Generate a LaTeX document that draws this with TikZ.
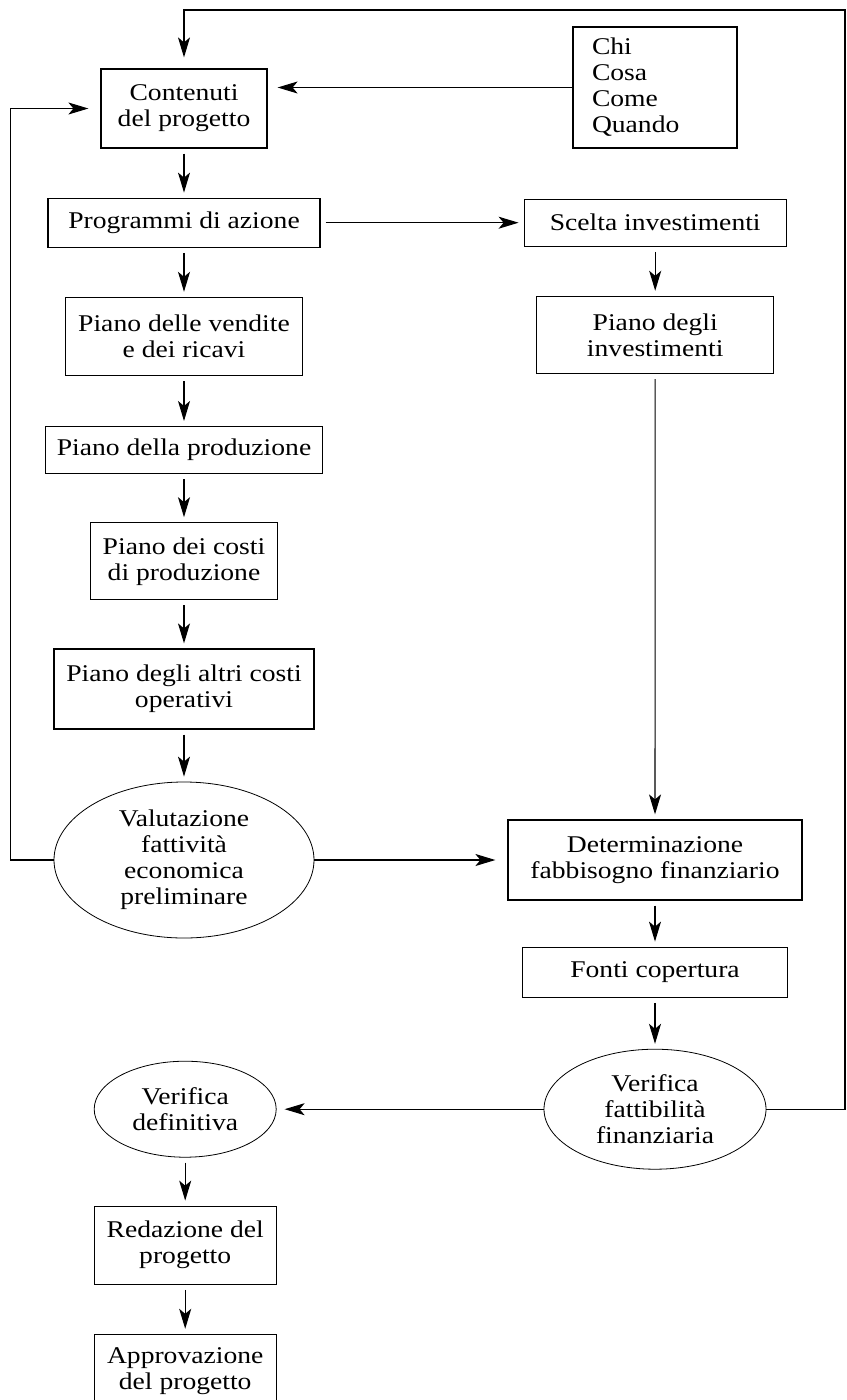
\documentclass[tikz,border=0pt]{standalone}
\usepackage{fontspec}
\setmainfont{Liberation Serif}[FakeStretch=1.15]
\usepackage{tikz}
\usetikzlibrary{shapes.geometric, arrows.meta, positioning}
\tikzset{
  box/.style={
    rectangle, draw, line width=1.2pt, align=center,
    inner sep=4pt, font=\fontsize{24pt}{26pt}\selectfont
  },
  oval/.style={
    ellipse, draw, line width=0.8pt, align=center,
    inner sep=0pt, font=\fontsize{24pt}{26pt}\selectfont
  },
  arr/.style={-{Stealth[length=20pt, width=12pt, inset=5pt]},
    line width=1.1pt, shorten >=5pt, shorten <=5pt},
  ritorno/.style={arr, shorten <=0pt}
}

\begin{document}
\begin{tikzpicture}[x=1pt, y=-1pt, node distance=49pt]
  \useasboundingbox (0,0) rectangle (846,1400);

  % colonna sinistra
  \node[box, minimum width=166pt, minimum height=79pt] (cont) at (184,108.5) {Contenuti\\del progetto};
  \node[box, minimum width=272pt, minimum height=49pt, below=of cont]    (prog)  {Programmi di azione};
  \node[box, minimum width=237pt, minimum height=78pt, below=of prog]    (vend)  {Piano delle vendite\\e dei ricavi};
  \node[box, minimum width=277pt, minimum height=47pt, below=50pt of vend]  (prod)  {Piano della produzione};
  \node[box, minimum width=187pt, minimum height=77pt, below=48pt of prod]  (costi) {Piano dei costi\\di produzione};
  \node[box, minimum width=260pt, minimum height=80pt, below=48pt of costi] (altri) {Piano degli altri costi\\operativi};
  \node[oval, minimum width=260pt, minimum height=156pt, below=52pt of altri] (val) {Valutazione\\fattività\\economica\\preliminare};

  % colonna destra
  \node[box, text width=126pt, align=left, inner xsep=19pt, minimum height=121pt] (chi) at (655,87.5) {Chi\\Cosa\\Come\\Quando};
  \node[box, minimum width=262pt, minimum height=47pt, right=203pt of prog] (scelta) {Scelta investimenti};
  \node[box, minimum width=237pt, minimum height=77pt, below=of scelta]     (inv)    {Piano degli\\investimenti};
  \node[box, minimum width=294pt, minimum height=80pt, right=193pt of val]  (det)    {Determinazione\\fabbisogno finanziario};
  \node[box, minimum width=265pt, minimum height=50pt, below=46pt of det]   (fonti)  {Fonti copertura};
  \node[oval, minimum width=222pt, minimum height=120pt, below=51pt of fonti] (verfin) {Verifica\\fattibilità\\finanziaria};

  % chiusura
  \node[oval, minimum width=182pt, minimum height=96pt, left=267pt of verfin] (verdef) {Verifica\\definitiva};
  \node[box, minimum width=182pt, minimum height=78pt, below=48pt of verdef] (red)  {Redazione del\\progetto};
  \node[box, minimum width=182pt, minimum height=73pt, below=49pt of red]    (appr) {Approvazione\\del progetto};

  \coordinate (alto) at (845,10);

  \foreach \a/\b in {cont/prog, prog/vend, vend/prod, prod/costi, costi/altri,
                     altri/val, scelta/inv, inv/det, det/fonti, fonti/verfin,
                     verdef/red, red/appr}
    \draw[arr] (\a) -- (\b);

  \draw[arr] (prog) -- (scelta);
  \draw[ritorno, shorten >=12pt] (val) -- (det);
  \draw[ritorno, shorten >=8pt] (verfin) -- (verdef);
  \draw[ritorno, shorten >=10pt] (chi.west) -- (chi.west -| cont.east);
  \draw[ritorno, shorten >=12pt] (val.west) -- ++(-43,0) |- (cont.west);
  \draw[ritorno, shorten >=11pt] (verfin.east) -| (alto) -| (cont.north);
\end{tikzpicture}
\end{document}
